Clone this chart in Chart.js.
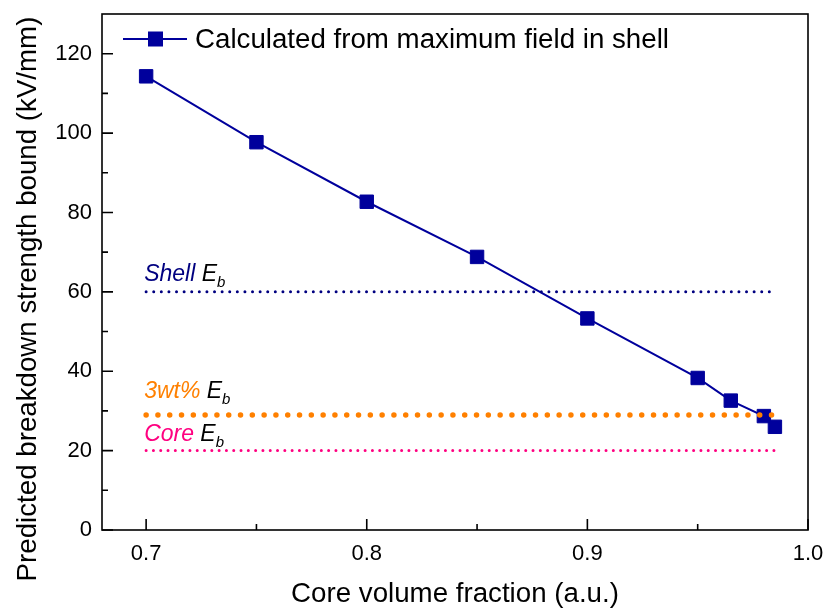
<!DOCTYPE html>
<html>
<head>
<meta charset="utf-8">
<script src="https://cdn.jsdelivr.net/npm/chart.js@4.4.0/dist/chart.umd.min.js"></script>
<style>
html,body{margin:0;padding:0;background:#fff;}
#wrap{width:827px;height:609px;position:relative;}
</style>
</head>
<body>
<div id="wrap"><canvas id="c" width="827" height="609"></canvas></div>
<script>
// ---- data ----
const coreFraction = [0.7, 0.75, 0.8, 0.85, 0.9, 0.95, 0.965, 0.98, 0.985];
const boundValues = [114.3, 97.7, 82.7, 68.8, 53.3, 38.3, 32.6, 28.7, 26.0];
const refSpan = [0.7, 0.985];
const shellEb = 60;
const wt3Eb = 29;
const coreEb = 20;
const xTicks = [0.7, 0.8, 0.9, 1.0];
const xMinorTicks = [0.75, 0.85, 0.95];
const yTicks = [0, 20, 40, 60, 80, 100, 120];
const yMinorTicks = [10, 30, 50, 70, 90, 110];
const seriesLabel = 'Calculated from maximum field in shell';
const xTitle = 'Core volume fraction (a.u.)';
const yTitle = 'Predicted breakdown strength bound (kV/mm)';
const refLabels = [
  {name: 'Shell', value: shellEb, color: '#000080', dy: -11},
  {name: '3wt%', value: wt3Eb, color: '#FF8000', dy: -17},
  {name: 'Core', value: coreEb, color: '#FF0080', dy: -10}
];

const FONT = '"Liberation Sans", Arial, sans-serif';
const lineColor = '#00009C';

const framePlugin = {
  id: 'frame',
  afterDraw(chart) {
    const {ctx, chartArea: a, scales} = chart;
    const x = scales.x, y = scales.y;
    ctx.save();
    ctx.strokeStyle = '#000';
    ctx.lineWidth = 1.6;
    ctx.strokeRect(a.left, a.top, a.right - a.left, a.bottom - a.top);
    ctx.beginPath();
    xTicks.forEach(v => { const px = x.getPixelForValue(v); ctx.moveTo(px, a.bottom); ctx.lineTo(px, a.bottom - 11); });
    xMinorTicks.forEach(v => { const px = x.getPixelForValue(v); ctx.moveTo(px, a.bottom); ctx.lineTo(px, a.bottom - 6); });
    yTicks.forEach(v => { const py = y.getPixelForValue(v); ctx.moveTo(a.left, py); ctx.lineTo(a.left + 11, py); });
    yMinorTicks.forEach(v => { const py = y.getPixelForValue(v); ctx.moveTo(a.left, py); ctx.lineTo(a.left + 6, py); });
    ctx.stroke();

    // reference labels
    refLabels.forEach(r => {
      const px = x.getPixelForValue(refSpan[0]) - 2;
      const py = y.getPixelForValue(r.value) + r.dy;
      ctx.font = 'italic 23px ' + FONT;
      ctx.textBaseline = 'alphabetic';
      ctx.textAlign = 'left';
      ctx.fillStyle = r.color;
      const t = r.name + ' ';
      ctx.fillText(t, px, py);
      let w = ctx.measureText(t).width;
      ctx.fillStyle = '#000';
      ctx.fillText('E', px + w, py);
      w += ctx.measureText('E').width;
      ctx.font = 'italic 15px ' + FONT;
      ctx.fillText('b', px + w, py + 6);
    });

    // legend
    const ly = 39;
    ctx.strokeStyle = lineColor;
    ctx.lineWidth = 2;
    ctx.beginPath();
    ctx.moveTo(123, ly); ctx.lineTo(187, ly);
    ctx.stroke();
    ctx.fillStyle = lineColor;
    ctx.fillRect(148, ly - 7.5, 15, 15);
    ctx.fillStyle = '#000';
    ctx.font = '27.7px ' + FONT;
    ctx.textBaseline = 'middle';
    ctx.textAlign = 'left';
    ctx.fillText(seriesLabel, 195, ly + 1);

    // x title
    ctx.textAlign = 'center';
    ctx.fillText(xTitle, 455, 594);

    // y title
    ctx.save();
    ctx.translate(28, 299);
    ctx.rotate(-Math.PI / 2);
    ctx.textAlign = 'center';
    ctx.textBaseline = 'middle';
    ctx.font = '27.7px ' + FONT;
    ctx.fillText(yTitle, 0, 0);
    ctx.restore();
    ctx.restore();
  }
};

const refDataset = (val, color, width, gap) => ({
  type: 'line',
  data: refSpan.map(v => ({x: v, y: val})),
  borderColor: color,
  borderWidth: width,
  borderDash: [0, gap],
  borderCapStyle: 'round',
  pointRadius: 0,
  fill: false
});

new Chart(document.getElementById('c'), {
  type: 'line',
  data: {
    datasets: [
      refDataset(shellEb, '#000080', 3, 7.6),
      refDataset(wt3Eb, '#FF8000', 5.5, 11.8),
      refDataset(coreEb, '#FF0080', 3, 7.3),
      {
        label: seriesLabel,
        data: coreFraction.map((v, i) => ({x: v, y: boundValues[i]})),
        borderColor: lineColor,
        backgroundColor: lineColor,
        borderWidth: 2,
        pointStyle: 'rect',
        pointRadius: 9.5,
        pointBorderWidth: 1,
        pointHoverRadius: 9.5,
        tension: 0
      }
    ]
  },
  options: {
    responsive: false,
    animation: false,
    events: [],
    layout: {padding: {top: 14, right: 19, left: 0, bottom: 0}},
    plugins: {legend: {display: false}, tooltip: {enabled: false}},
    scales: {
      x: {
        type: 'linear',
        min: 0.68, max: 1.0,
        afterBuildTicks(s) { s.ticks = xTicks.map(v => ({value: v})); },
        afterFit(s) { s.height = 79; s.paddingLeft = 0; s.paddingRight = 0; },
        grid: {display: false, drawTicks: false},
        border: {display: false},
        ticks: {
          padding: 11,
          color: '#000',
          font: {family: FONT, size: 22},
          callback: v => v.toFixed(1)
        },
        title: {display: false}
      },
      y: {
        type: 'linear',
        min: 0, max: 130,
        afterBuildTicks(s) { s.ticks = yTicks.map(v => ({value: v})); },
        afterFit(s) { s.width = 102; s.paddingTop = 0; s.paddingBottom = 0; },
        grid: {display: false, drawTicks: false},
        border: {display: false},
        ticks: {
          padding: 10,
          color: '#000',
          font: {family: FONT, size: 22}
        },
        title: {display: false}
      }
    }
  },
  plugins: [framePlugin]
});
</script>
</body>
</html>
